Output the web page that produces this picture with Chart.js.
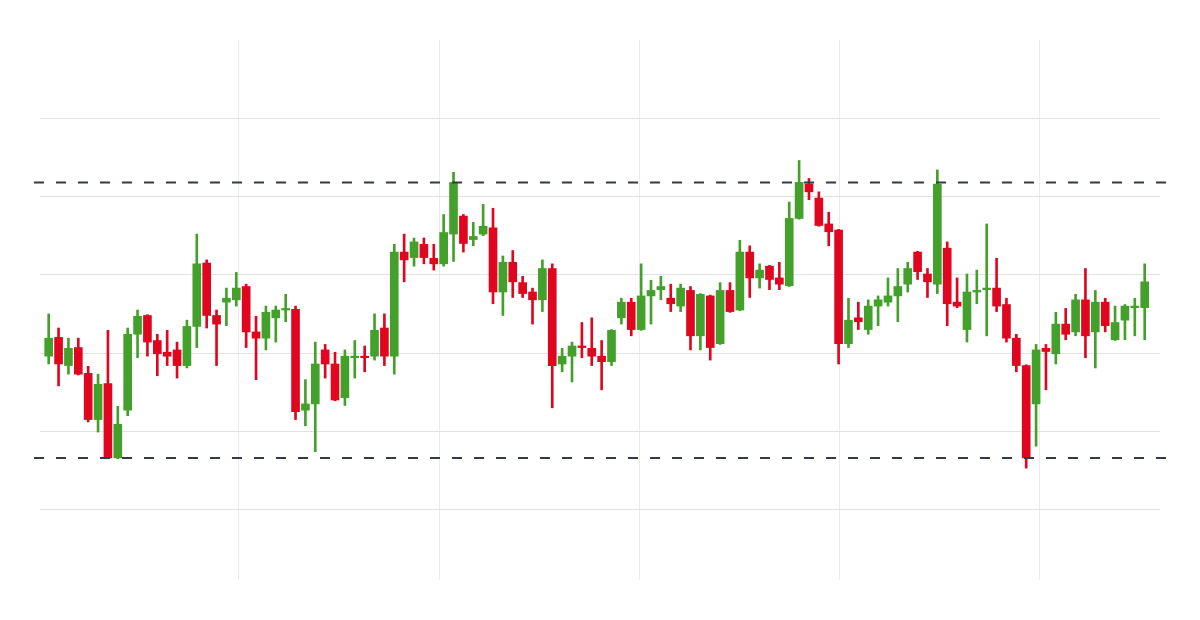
<!DOCTYPE html>
<html>
<head>
<meta charset="utf-8">
<script src="https://cdn.jsdelivr.net/npm/chart.js@4.4.1/dist/chart.umd.min.js"></script>
<style>
  html, body { margin: 0; padding: 0; background: #fff; }
</style>
</head>
<body>
<canvas id="candleChart" width="1200" height="620"></canvas>
<script>
// OHLC per session
var opens  = [29.6, 32.0, 28.4, 30.7, 27.4, 21.5, 26.1, 16.6, 22.7, 32.4,
              34.8, 31.6, 30.1, 30.4, 28.4, 33.4, 41.5, 34.8, 36.5, 36.8,
              38.5, 32.7, 31.9, 34.5, 35.5, 35.6, 22.7, 23.5, 30.4, 28.6,
              24.3, 29.4, 29.6, 29.6, 33.2, 29.6, 42.9, 42.2, 43.9, 42.1,
              41.4, 45.2, 47.5, 44.5, 45.2, 46.0, 37.8, 41.6, 39.0, 37.8,
              36.8, 40.8, 28.6, 29.6, 30.9, 30.6, 29.6, 28.9, 34.5, 36.5,
              33.0, 37.3, 38.1, 37.0, 36.0, 38.0, 32.2, 37.3, 31.2, 38.0,
              35.5, 42.9, 39.6, 41.1, 39.6, 38.6, 47.2, 51.6, 49.8, 46.5,
              45.7, 31.2, 34.5, 33.0, 36.0, 36.5, 37.3, 38.8, 42.9, 40.1,
              38.8, 43.4, 36.5, 33.0, 37.8, 38.1, 38.3, 36.2, 31.9, 28.4,
              23.5, 30.6, 29.9, 33.7, 32.7, 36.8, 32.7, 36.5, 31.7, 34.2,
              35.8, 35.8];
var highs  = [35.0, 33.2, 31.9, 31.9, 28.3, 27.3, 32.9, 23.2, 33.2, 35.5,
              34.9, 32.4, 32.9, 31.4, 34.2, 45.2, 41.9, 35.5, 38.3, 40.3,
              38.8, 34.7, 36.0, 36.0, 37.5, 36.0, 26.6, 31.4, 31.1, 30.1,
              30.4, 31.6, 30.9, 35.0, 35.0, 43.9, 45.2, 44.7, 44.7, 43.9,
              47.7, 53.1, 47.7, 46.7, 49.0, 48.5, 42.4, 43.1, 39.8, 38.3,
              41.9, 41.4, 30.6, 31.4, 33.9, 34.5, 31.6, 33.0, 37.0, 37.0,
              41.4, 39.3, 39.8, 38.8, 38.8, 38.5, 37.6, 37.4, 39.0, 39.0,
              44.4, 43.7, 41.4, 41.2, 41.6, 49.3, 54.6, 52.3, 50.6, 48.0,
              45.8, 37.0, 36.5, 36.8, 37.3, 39.6, 40.8, 41.6, 43.0, 40.8,
              53.4, 44.2, 39.6, 40.1, 40.6, 46.5, 42.1, 37.0, 32.4, 28.5,
              31.1, 31.1, 35.2, 35.7, 37.5, 40.8, 38.0, 37.0, 36.0, 36.2,
              37.0, 41.4];
var lows   = [28.6, 25.8, 27.3, 27.2, 21.2, 19.9, 16.5, 16.5, 22.0, 29.4,
              29.6, 27.1, 28.4, 26.8, 28.1, 30.7, 33.2, 28.4, 33.5, 36.0,
              30.7, 26.6, 30.4, 31.4, 34.0, 21.5, 20.7, 17.4, 26.8, 23.9,
              23.3, 26.8, 27.6, 29.1, 28.4, 27.3, 39.1, 41.1, 41.4, 40.6,
              41.1, 41.7, 42.9, 43.7, 45.0, 36.3, 34.8, 37.1, 37.1, 33.7,
              35.3, 23.0, 27.6, 26.3, 29.4, 28.4, 25.3, 28.4, 33.7, 32.2,
              32.9, 33.7, 36.8, 35.3, 35.3, 30.4, 30.4, 29.1, 31.1, 35.2,
              35.4, 37.1, 38.3, 38.1, 38.1, 38.5, 47.1, 49.6, 46.2, 43.7,
              28.6, 30.7, 33.0, 32.4, 33.5, 36.0, 34.0, 37.8, 39.4, 37.1,
              37.6, 33.5, 35.8, 31.4, 36.3, 32.2, 35.3, 31.4, 27.6, 15.3,
              18.1, 25.3, 28.6, 31.7, 32.2, 29.4, 28.1, 32.7, 31.6, 31.7,
              32.2, 31.7];
var closes = [31.9, 28.6, 30.6, 27.3, 21.5, 26.0, 16.6, 20.9, 32.4, 34.7,
              31.4, 29.9, 29.6, 28.4, 33.4, 41.4, 34.8, 33.7, 37.0, 38.3,
              32.7, 31.9, 35.2, 35.5, 35.7, 22.5, 23.5, 28.6, 28.6, 24.0,
              29.6, 29.6, 29.4, 32.9, 29.6, 42.9, 41.9, 44.2, 42.2, 41.4,
              45.4, 51.8, 44.0, 44.9, 46.2, 37.8, 41.6, 39.1, 37.6, 36.8,
              40.8, 28.4, 29.6, 30.9, 30.7, 29.6, 28.9, 32.9, 36.5, 33.0,
              37.3, 38.0, 38.5, 36.3, 38.3, 32.2, 37.5, 30.7, 38.0, 35.3,
              42.9, 39.6, 40.6, 39.4, 38.8, 47.2, 51.8, 50.6, 46.3, 45.5,
              31.2, 34.2, 34.0, 36.0, 36.8, 37.3, 38.5, 40.8, 40.4, 39.1,
              51.6, 36.3, 36.0, 37.8, 38.0, 38.3, 36.0, 31.9, 28.4, 16.6,
              30.4, 30.2, 33.7, 32.4, 36.8, 32.2, 36.5, 33.5, 33.9, 36.0,
              36.0, 39.1];

// gridline values
var yGridTicks = [10, 20, 30, 40, 50, 60];
var xGridTicks = [20, 40, 60, 80, 100];

var upColor = '#43a12b';
var downColor = '#e0061f';

// resistance / support = highest and lowest candle body
var resistance = Math.max.apply(null, opens.concat(closes));
var support = Math.min.apply(null, opens.concat(closes));

var bodies = opens.map(function(o, i){ return {x: i, y: [o, closes[i]]}; });
var wicks = lows.map(function(l, i){ return {x: i, y: [l, highs[i]]}; });
var candleColor = function(ctx){
    var i = ctx.dataIndex;
    return closes[i] >= opens[i] ? upColor : downColor;
};

var dashFrom = -1.49, dashTo = 113.16;

var ctx = document.getElementById('candleChart');
var candleChart = new Chart(ctx, {
    type: 'bar',
    data: {
        datasets: [{
            type: 'line',
            data: [{x: dashFrom, y: resistance}, {x: dashTo, y: resistance}],
            borderColor: '#343a46',
            borderWidth: 2,
            borderDash: [10, 12],
            pointRadius: 0,
            clip: false,
            order: 0
        }, {
            type: 'line',
            data: [{x: dashFrom, y: support}, {x: dashTo, y: support}],
            borderColor: '#343a46',
            borderWidth: 2,
            borderDash: [10, 12],
            pointRadius: 0,
            clip: false,
            order: 0
        }, {
            data: bodies,
            backgroundColor: candleColor,
            barThickness: 8,
            grouped: false,
            borderWidth: 0,
            order: 1
        }, {
            data: wicks,
            backgroundColor: candleColor,
            barThickness: 2,
            grouped: false,
            borderWidth: 0,
            order: 2
        }]
    },
    options: {
        responsive: false,
        animation: false,
        events: [],
        layout: { padding: { left: 40, right: 40, top: 40, bottom: 40 } },
        plugins: {
            legend: { display: false },
            tooltip: { enabled: false }
        },
        scales: {
            x: {
                type: 'linear',
                display: false,
                min: -0.88,
                max: 112.55,
                offset: false,
                grid: { offset: false }
            },
            x2: {
                type: 'linear',
                position: 'bottom',
                min: 0.1,
                max: 112.1,
                offset: false,
                ticks: { display: false },
                border: { display: false },
                grid: { color: '#ebebeb', drawTicks: false, offset: false },
                afterBuildTicks: function(axis){
                    axis.ticks = xGridTicks.map(function(v){ return {value: v}; });
                }
            },
            y: {
                min: 1,
                max: 70,
                ticks: { display: false },
                border: { display: false },
                grid: { color: '#e2e2e2', drawTicks: false },
                afterBuildTicks: function(axis){
                    axis.ticks = yGridTicks.map(function(v){ return {value: v}; });
                }
            }
        }
    }
});
</script>
</body>
</html>
